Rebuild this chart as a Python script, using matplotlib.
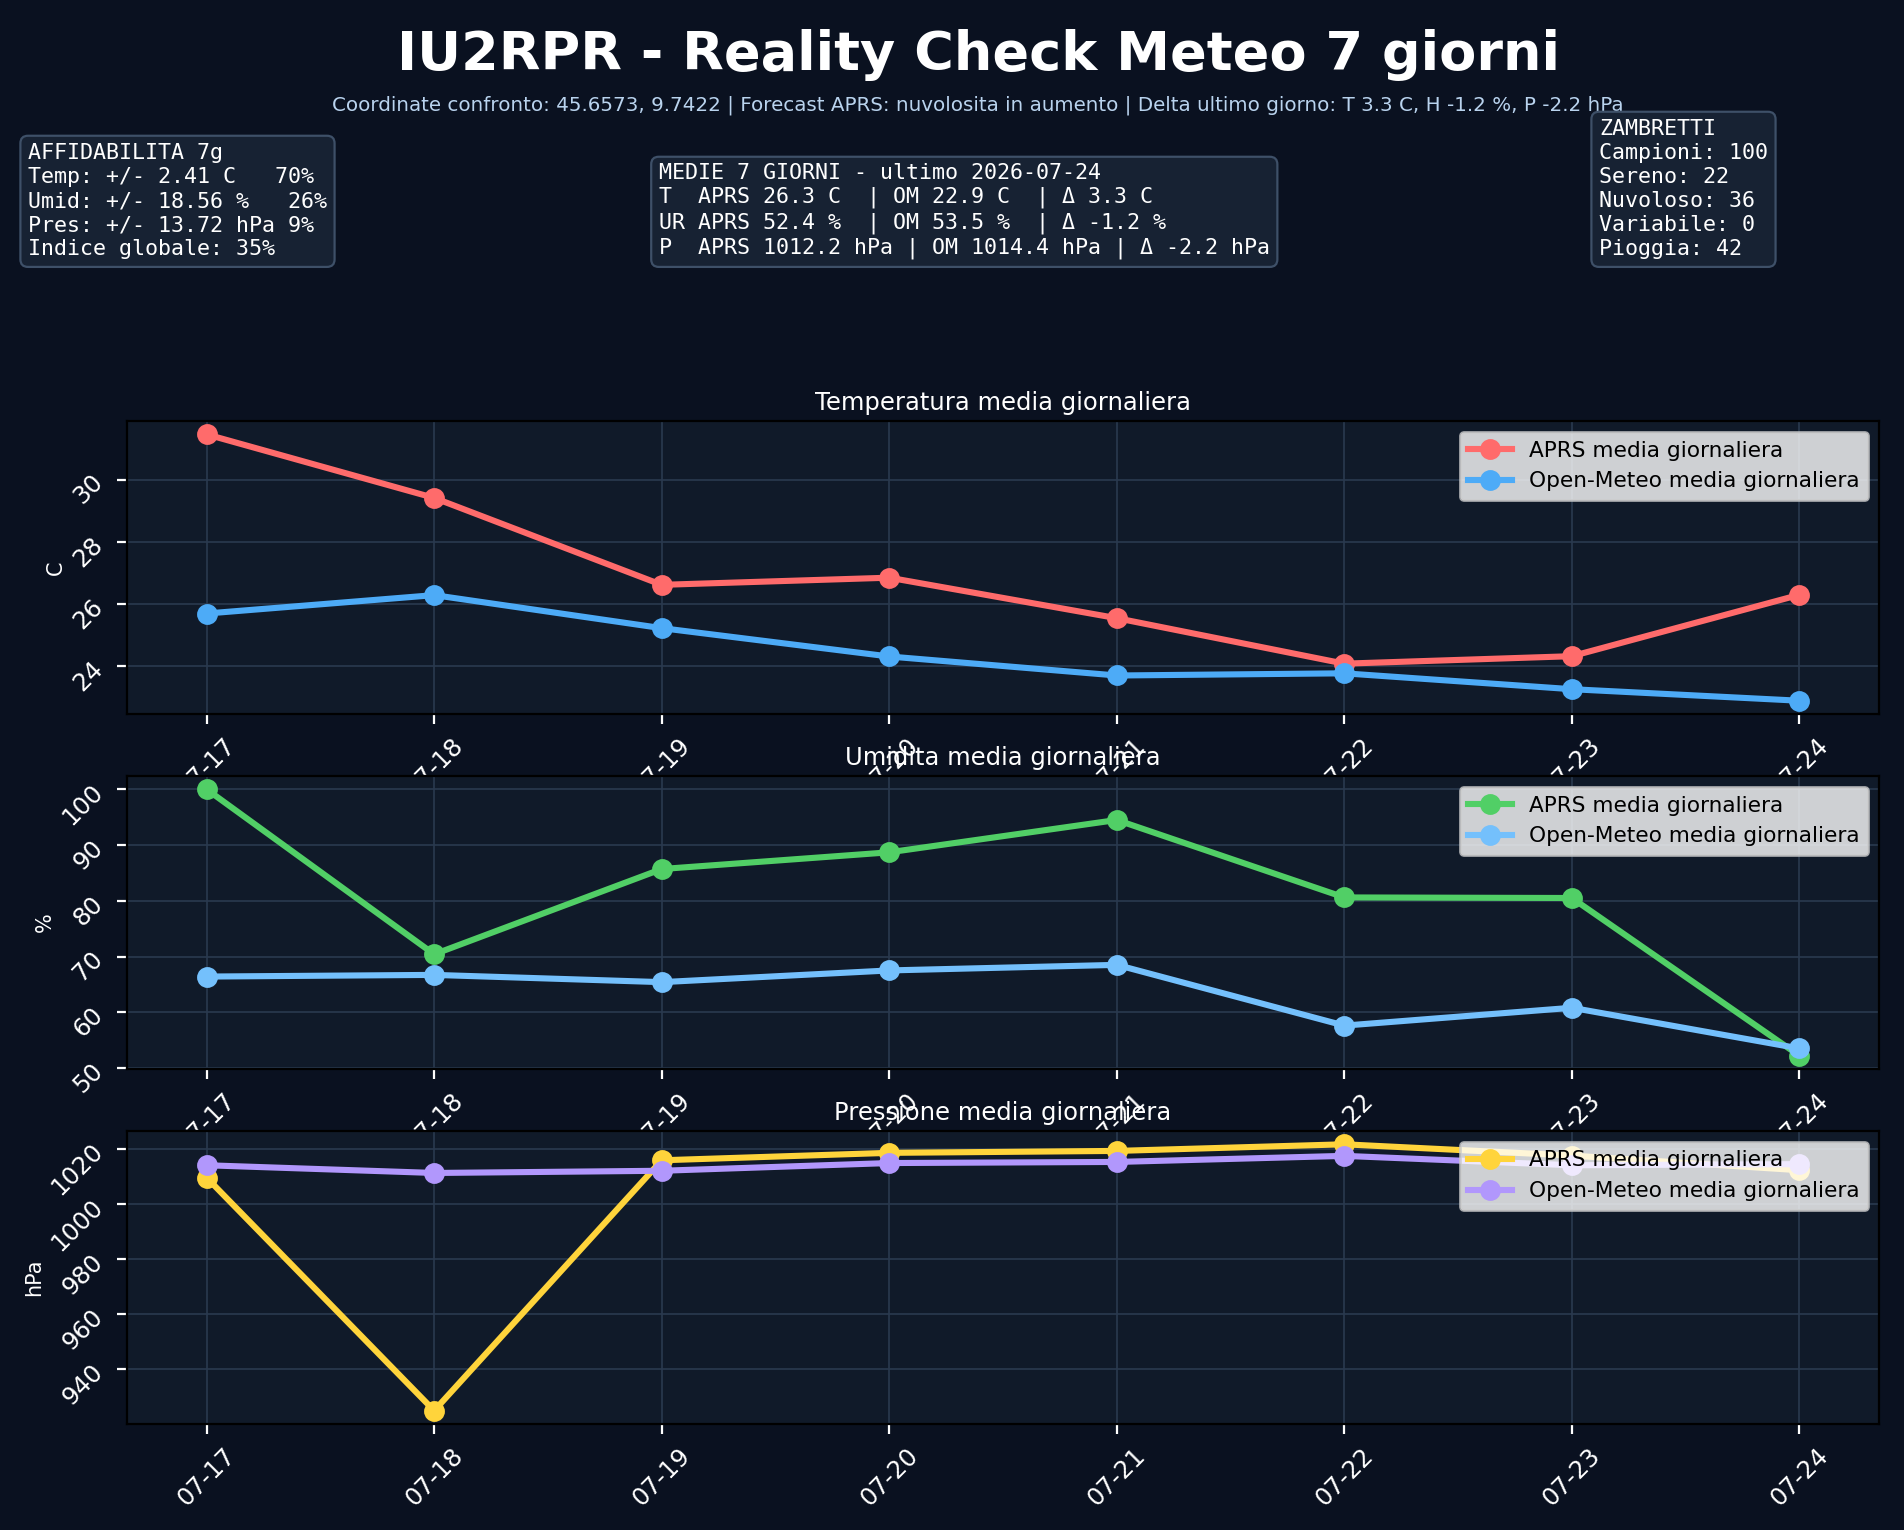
import matplotlib
matplotlib.use("Agg")
import matplotlib.pyplot as plt
from matplotlib.ticker import MultipleLocator

# dati
giorni = ["07-17", "07-18", "07-19", "07-20", "07-21", "07-22", "07-23", "07-24"]
temp_aprs = [31.45, 29.41, 26.62, 26.85, 25.55, 24.09, 24.33, 26.3]
temp_om = [25.70, 26.29, 25.23, 24.32, 23.71, 23.78, 23.27, 22.9]
umid_aprs = [100.0, 70.4, 85.7, 88.7, 94.5, 80.6, 80.5, 52.2]
umid_om = [66.4, 66.7, 65.4, 67.5, 68.5, 57.6, 60.8, 53.5]
pres_aprs = [1009.5, 925.0, 1015.8, 1018.5, 1019.2, 1021.6, 1017.5, 1012.2]
pres_om = [1014.0, 1011.2, 1012.0, 1014.8, 1015.2, 1017.4, 1014.0, 1014.4]

titolo = "IU2RPR - Reality Check Meteo 7 giorni"
sottotitolo = ("Coordinate confronto: 45.6573, 9.7422 | Forecast APRS: nuvolosita in aumento | "
               "Delta ultimo giorno: T 3.3 C, H -1.2 %, P -2.2 hPa")
box_affid = ("AFFIDABILITA 7g\n"
             "Temp: +/- 2.41 C   70%\n"
             "Umid: +/- 18.56 %   26%\n"
             "Pres: +/- 13.72 hPa 9%\n"
             "Indice globale: 35%")
box_medie = ("MEDIE 7 GIORNI - ultimo 2026-07-24\n"
             "T  APRS 26.3 C  | OM 22.9 C  | \u0394 3.3 C\n"
             "UR APRS 52.4 %  | OM 53.5 %  | \u0394 -1.2 %\n"
             "P  APRS 1012.2 hPa | OM 1014.4 hPa | \u0394 -2.2 hPa")
box_zamb = ("ZAMBRETTI\n"
            "Campioni: 100\n"
            "Sereno: 22\n"
            "Nuvoloso: 36\n"
            "Variabile: 0\n"
            "Pioggia: 42")

BG = "#0a1120"
AXBG = "#101a29"
GRID = "#2a3a4f"

fig = plt.figure(figsize=(9.52, 7.65), dpi=200, facecolor=BG)

fig.text(0.5137, 0.954, titolo, ha="center", va="baseline", fontsize=19.5,
         fontweight="bold", color="white")
fig.text(0.5134, 0.9275, sottotitolo, ha="center", va="baseline", fontsize=7.15,
         color="#b9d3ee")

box_style = dict(boxstyle="round,pad=0.35", facecolor="#172233", edgecolor="#3e5068", lw=0.8)
for x, txt in [(0.0147, box_affid), (0.346, box_medie), (0.8398, box_zamb)]:
    fig.text(x, 0.8305, txt, ha="left", va="bottom", fontsize=7.8, family="DejaVu Sans Mono",
             color="white", linespacing=1.25, bbox=box_style)

pannelli = [
    ("Temperatura media giornaliera", "C", temp_aprs, temp_om, "#ff6b6b", "#4dabf7", 0.5333, 2),
    ("Umidita media giornaliera", "%", umid_aprs, umid_om, "#51cf66", "#74c0fc", 0.3013, 10),
    ("Pressione media giornaliera", "hPa", pres_aprs, pres_om, "#ffd43b", "#b197fc", 0.0693, 20),
]

x = list(range(len(giorni)))
for tit, unit, aprs, om, c1, c2, bottom, passo in pannelli:
    ax = fig.add_axes([0.0667, bottom, 0.9202, 0.1915])
    ax.set_facecolor(AXBG)
    ax.plot(x, aprs, marker="o", lw=2.2, ms=6.5, color=c1, label="APRS media giornaliera")
    ax.plot(x, om, marker="o", lw=2.2, ms=6.5, color=c2, label="Open-Meteo media giornaliera")
    ax.set_xticks(x)
    ax.set_xticklabels(giorni)
    ax.yaxis.set_major_locator(MultipleLocator(passo))
    ax.set_title(tit, color="white", fontsize=8.75, pad=4)
    ax.set_ylabel(unit, color="white", fontsize=7.5, labelpad=1)
    ax.tick_params(labelrotation=45, colors="white", labelsize=8.8)
    ax.grid(True, color=GRID, lw=0.6)
    for s in ax.spines.values():
        s.set_color("black")
    ax.legend(loc="upper right", fontsize=7.8)

plt.savefig("out.png", dpi=200, facecolor=BG)
